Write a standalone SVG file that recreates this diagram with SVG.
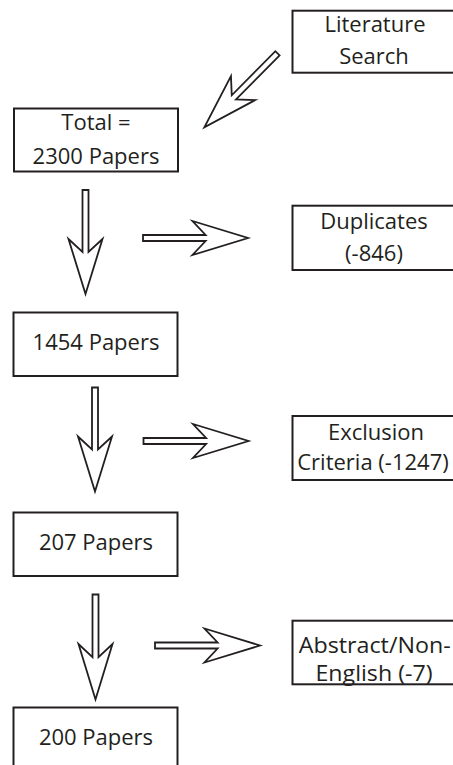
<svg xmlns="http://www.w3.org/2000/svg" xmlns:xlink="http://www.w3.org/1999/xlink" width="453" height="765" viewBox="0 0 453 765">
<style>
.box{fill:#fff;stroke:#231f20;stroke-width:2}
.t{font-family:"Open Sans","Noto Sans",sans-serif;font-size:22px;fill:#231f20;text-anchor:middle}
.s{font-size:21px}
.arr{fill:#fff;stroke:#231f20;stroke-width:1.8;stroke-linejoin:miter}
</style>
<defs>
<path id="arrow" d="M0,-3 L62,-3 L49,-17 L104,0 L49,17 L62,3 L0,3 Z"/>
</defs>
<rect width="453" height="765" fill="#fff"/>
<g id="connectors">
<use xlink:href="#arrow" class="arr" transform="translate(277.5,53.3) rotate(134.7)"/>
<use xlink:href="#arrow" class="arr" transform="translate(85.5,190) rotate(90)"/>
<use xlink:href="#arrow" class="arr" transform="translate(143,238) scale(1.01,1)"/>
<use xlink:href="#arrow" class="arr" transform="translate(95,387.5) rotate(90)"/>
<use xlink:href="#arrow" class="arr" transform="translate(143.5,441) scale(1.01,1)"/>
<use xlink:href="#arrow" class="arr" transform="translate(95.5,594.5) rotate(90) scale(1.01,1)"/>
<use xlink:href="#arrow" class="arr" transform="translate(155,645.5) scale(1.01,1)"/>
</g>
<g id="literature">
<rect class="box" x="292.5" y="10.7" width="170" height="62"/>
<text class="t" x="375" y="32">Literature</text>
<text class="t" x="374" y="64">Search</text>
</g>
<g id="total">
<rect class="box" x="14" y="108.5" width="164" height="63"/>
<text class="t" x="96" y="129.5">Total =</text>
<text class="t" x="96" y="163.5">2300 Papers</text>
</g>
<g id="duplicates">
<rect class="box" x="292.5" y="205.7" width="170" height="64.3"/>
<text class="t" x="374" y="229">Duplicates</text>
<text class="t" x="374" y="261">(-846)</text>
</g>
<g id="p1454">
<rect class="box" x="13.5" y="312.5" width="164" height="63.5"/>
<text class="t" x="96" y="350">1454 Papers</text>
</g>
<g id="exclusion">
<rect class="box" x="292.5" y="416" width="170" height="64"/>
<text class="t" x="376" y="439.5">Exclusion</text>
<text class="t" x="373" y="470">Criteria (-1247)</text>
</g>
<g id="p207">
<rect class="box" x="13.5" y="512.5" width="164" height="63.5"/>
<text class="t" x="96" y="550">207 Papers</text>
</g>
<g id="abstract">
<rect class="box" x="292.5" y="620.7" width="170" height="63.6"/>
<text class="t s" x="374.7" y="652.5" textLength="152" lengthAdjust="spacingAndGlyphs">Abstract/Non-</text>
<text class="t s" x="374" y="681" textLength="117" lengthAdjust="spacingAndGlyphs">English (-7)</text>
</g>
<g id="p200">
<rect class="box" x="13.5" y="707.5" width="164" height="70"/>
<text class="t" x="96" y="745">200 Papers</text>
</g>
</svg>
